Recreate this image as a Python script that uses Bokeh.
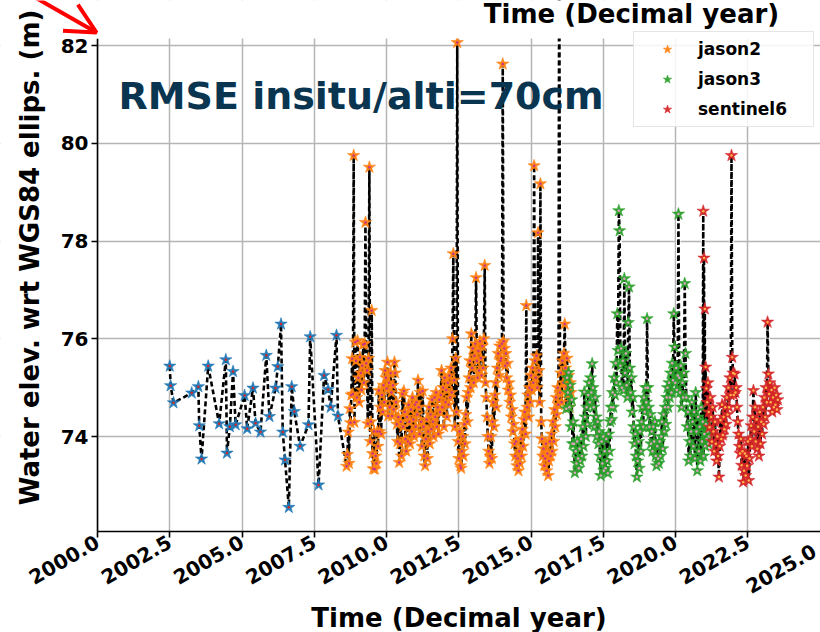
import numpy as np
from math import pi
from bokeh.plotting import figure
from bokeh.models import (Range1d, FixedTicker, PrintfTickFormatter, Label, Arrow, OpenHead,
                          Legend, LegendItem, LinearAxis, Grid, BoxAnnotation)
from bokeh.embed import file_html
from bokeh.resources import INLINE

# ---------------- data ----------------
x_ticks = [2000.0, 2002.5, 2005.0, 2007.5, 2010.0, 2012.5, 2015.0, 2017.5, 2020.0, 2022.5, 2025.0]
y_ticks = [74, 76, 78, 80, 82]

envisat_years = [2002.50, 2002.53, 2002.63, 2003.26, 2003.49, 2003.52, 2003.60, 2003.83, 2004.21, 2004.44,
                 2004.48, 2004.58, 2004.69, 2004.78, 2005.09, 2005.18, 2005.38, 2005.47, 2005.64, 2005.84,
                 2005.95, 2006.16, 2006.24, 2006.35, 2006.41, 2006.49, 2006.62, 2006.72, 2006.81, 2007.01,
                 2007.30, 2007.36, 2007.65, 2007.84, 2007.98, 2008.07, 2008.27, 2008.32]
envisat_height = [75.44, 75.04, 74.69, 74.89, 75.02, 74.22, 73.54, 75.44, 74.26, 75.57,
                  73.66, 74.20, 75.33, 74.24, 74.84, 74.16, 74.99, 74.27, 74.09, 75.66,
                  74.41, 74.99, 75.43, 76.30, 74.09, 73.52, 72.55, 75.02, 74.51, 73.80,
                  74.24, 76.04, 73.01, 75.25, 74.96, 74.60, 76.07, 74.42]

cycle_days = 9.9156
jason2_start = 2008.62
jason3_start = 2016.22
sentinel6_start = 2020.96

jason2_height = [
    73.39, 73.63, 74.09, 73.45, 74.57, 74.28, 74.85, 75.59, 74.87, 79.75,
    74.29, 75.93, 75.55, 74.80, 75.96, 75.20, 74.70, 75.62, 75.30, 74.95,
    75.45, 75.88, 75.10, 75.90, 78.38, 75.50, 75.35, 74.26, 75.60, 79.51,
    73.90, 74.30, 76.58, 73.65, 73.34, 74.10, 73.33, 73.60, 73.45, 74.10,
    73.80, 74.94, 74.10, 74.60, 74.05, 74.85, 74.50, 75.05, 74.70, 75.35,
    75.20, 74.98, 75.52, 74.42, 75.10, 74.60, 75.30, 74.90, 74.42, 75.05,
    74.55, 75.52, 75.30, 74.70, 74.25, 73.90, 74.40, 73.47, 73.85, 74.30,
    73.60, 74.87, 74.20, 74.93, 74.50, 73.95, 73.70, 74.40, 73.90, 74.65,
    74.30, 73.85, 74.55, 74.10, 74.80, 74.35, 74.00, 74.65, 74.20, 74.70,
    74.45, 75.15, 74.60, 74.05, 74.90, 74.30, 73.80, 74.93, 74.20, 73.60,
    73.40, 73.95, 74.35, 73.55, 74.10, 74.60, 73.85, 74.45, 74.15, 74.75,
    74.30, 74.00, 74.80, 74.40, 74.90, 74.20, 74.60, 74.05, 74.75, 74.50,
    74.85, 75.35, 74.60, 75.00, 74.20, 75.20, 74.70, 74.95, 74.40, 75.10,
    74.65, 75.25, 74.80, 75.40, 74.90, 76.00, 77.74, 75.15, 74.20, 75.60,
    74.50, 82.06, 73.90, 73.55, 74.10, 73.40, 73.35, 73.70, 74.00, 73.60,
    74.25, 73.85, 74.45, 74.80, 74.30, 74.90, 75.20, 75.55, 75.00, 76.10,
    75.40, 75.80, 75.10, 75.65, 75.90, 77.25, 75.55, 75.20, 75.75, 75.35,
    75.95, 75.60, 75.25, 75.85, 75.40, 76.00, 77.50, 75.10, 74.80, 74.40,
    74.00, 73.70, 73.45, 73.60, 74.00, 73.55, 74.30, 74.70, 74.20, 74.85,
    75.10, 74.60, 75.40, 75.70, 75.25, 75.85, 75.55, 75.60, 75.90, 81.62,
    75.95, 75.80, 75.45, 75.70, 75.20, 75.50, 74.95, 75.10, 74.70, 74.85,
    74.40, 74.55, 74.10, 74.25, 73.85, 73.60, 73.90, 73.40, 73.55, 73.30,
    73.70, 73.45, 73.95, 73.60, 74.15, 73.80, 74.35, 74.50, 74.05, 76.68,
    74.60, 74.85, 74.40, 75.00, 74.70, 75.25, 74.95, 75.40, 75.10, 79.54,
    75.55, 75.20, 75.65, 75.00, 78.17, 75.35, 74.70, 79.17, 74.30, 73.95,
    73.60, 73.75, 73.40, 73.55, 73.85, 73.30, 73.65, 73.20, 73.50, 73.90,
    73.60, 74.05, 73.70, 74.30, 73.90, 74.55, 74.20, 74.80, 74.45, 75.00,
    74.65, 85.00, 74.90, 75.30, 74.70, 75.55, 75.10, 75.70, 76.30, 75.40,
    75.00, 75.60, 74.85, 75.25, 74.60, 75.10, 74.90]

jason3_height = [
    74.57, 75.20, 74.90, 75.31, 74.60, 75.05, 74.20, 74.75, 73.85, 74.30,
    73.85, 73.26, 73.70, 73.45, 73.90, 73.55, 73.35, 73.75, 73.50, 73.95,
    73.60, 74.20, 73.80, 74.91, 74.40, 74.00, 74.60, 74.25, 74.85, 75.10,
    74.70, 75.20, 74.90, 75.49, 75.00, 74.60, 74.20, 74.80, 74.40, 74.00,
    74.30, 73.85, 74.10, 73.60, 73.20, 73.90, 73.45, 74.00, 73.30, 73.70,
    73.35, 73.95, 73.50, 73.25, 74.05, 73.70, 74.30, 74.60, 74.35, 74.90,
    74.60, 75.20, 74.85, 75.50, 75.10, 76.51, 75.76, 78.62, 78.21, 75.45,
    75.80, 75.00, 75.55, 74.94, 77.23, 75.30, 75.70, 75.05, 74.80, 76.33,
    77.06, 75.40, 74.90, 75.20, 74.50, 74.80, 74.20, 73.85, 74.05, 73.60,
    73.17, 73.50, 73.90, 73.35, 74.10, 73.70, 74.30, 74.60, 74.20, 74.80,
    74.50, 75.00, 74.70, 76.41, 75.00, 74.60, 74.20, 74.45, 73.85, 74.10,
    73.70, 74.20, 73.90, 74.30, 73.60, 73.40, 73.80, 73.55, 73.45, 73.90,
    73.60, 74.00, 74.30, 73.75, 74.45, 74.10, 74.60, 74.25, 74.80, 75.00,
    74.60, 75.10, 74.80, 75.30, 74.90, 75.50, 75.15, 76.51, 75.83, 75.10,
    75.40, 74.95, 75.25, 78.55, 75.20, 74.90, 75.45, 74.60, 75.10, 74.80,
    75.30, 77.13, 75.70, 74.80, 74.20, 74.50, 73.50, 73.90, 73.60, 74.10,
    74.70, 74.30, 73.80, 74.50, 73.55, 74.90, 74.10, 73.30, 74.40, 73.70,
    74.20, 73.50, 74.60, 73.90, 74.30, 73.60, 74.05, 73.80, 74.25, 73.95,
    74.10, 73.85, 74.00, 74.15]

sentinel6_height = [
    78.61, 77.65, 76.61, 75.42, 74.98, 74.70, 75.10, 74.50, 74.19, 74.80,
    74.40, 73.90, 74.60, 74.10, 73.70, 74.30, 73.85, 73.50, 74.00, 73.60,
    73.17, 73.80, 74.33, 73.95, 74.65, 74.03, 74.40, 74.15, 74.60, 74.25,
    74.80, 74.45, 75.00, 74.60, 75.20, 74.85, 79.75, 75.62, 75.30, 74.85,
    75.28, 74.90, 75.00, 74.60, 74.30, 74.05, 73.80, 73.65, 73.95, 73.41,
    73.70, 73.07, 73.30, 73.65, 73.20, 73.60, 73.40, 73.90, 73.10, 73.55,
    73.95, 74.22, 73.80, 74.40, 74.94, 74.10, 74.60, 73.90, 74.35, 73.75,
    74.20, 73.60, 74.50, 73.85, 74.30, 74.05, 74.60, 74.25, 74.80, 74.40,
    75.00, 74.70, 76.34, 75.28, 74.87, 75.10, 74.70, 74.95, 74.50, 74.80,
    74.60, 75.00, 74.65, 74.85, 74.55, 74.75]


def cycle_times(start, n):
    return start + np.arange(n) * cycle_days / 365.25


envisat_t = np.array(envisat_years)
jason2_t = cycle_times(jason2_start, len(jason2_height))
jason3_t = cycle_times(jason3_start, len(jason3_height))
sentinel6_t = cycle_times(sentinel6_start, len(sentinel6_height))

all_t = np.concatenate([envisat_t, jason2_t, jason3_t, sentinel6_t])
all_h = np.concatenate([envisat_height, jason2_height, jason3_height, sentinel6_height])
order = np.argsort(all_t, kind="stable")
all_t = all_t[order]
all_h = all_h[order]

# ---------------- geometry (canvas = plot frame) ----------------
W, H = 820, 632
PX_PER_YEAR = 28.9          # 2000.0 sits 97 px from the left edge
PX_PER_M = 48.875           # 74 m sits 436 px from the top edge
X0 = 2000.0 - 97 / PX_PER_YEAR
X1 = X0 + W / PX_PER_YEAR
YTOP = 74.0 + 436 / PX_PER_M
YBOT = YTOP - H / PX_PER_M
AX_BOTTOM = 74.0 - (531 - 436) / PX_PER_M   # lower spine
AX_TOP = 82.0 + (45 - 38) / PX_PER_M        # upper edge of the axes area


def xpx(px):
    return X0 + px / PX_PER_YEAR


def ypx(py):
    return YTOP - py / PX_PER_M


FONT = "DejaVu Sans"
p = figure(width=W, height=H, x_range=Range1d(X0, X1), y_range=Range1d(YBOT, YTOP),
           output_backend="svg", toolbar_location=None, title=None,
           x_axis_location=None, y_axis_location=None, min_border=0)
p.outline_line_color = None
p.background_fill_color = "white"
p.border_fill_color = "white"

# the last tick (at the right canvas edge) gets its label drawn separately so it stays inside
xaxis = LinearAxis(fixed_location=AX_BOTTOM, bounds=(2000.0, 2025.0),
                   ticker=FixedTicker(ticks=x_ticks[:-1]), formatter=PrintfTickFormatter(format="%.1f"))
yaxis = LinearAxis(fixed_location=2000.0, bounds=(AX_BOTTOM, AX_TOP),
                   ticker=FixedTicker(ticks=y_ticks), formatter=PrintfTickFormatter(format="%d"))
for ax in (xaxis, yaxis):
    ax.axis_line_color = "black"
    ax.axis_line_width = 1.6
    ax.major_tick_line_color = "black"
    ax.major_tick_line_width = 1.6
    ax.major_tick_out = 6
    ax.major_tick_in = 0
    ax.minor_tick_out = 0
    ax.minor_tick_in = 0
    ax.major_label_text_font = FONT
    ax.major_label_text_font_style = "bold"
    ax.major_label_text_font_size = "20px"
    ax.major_label_text_color = "black"
    ax.major_label_standoff = 3
xaxis.major_label_orientation = pi / 6
xaxis.axis_label = "Time (Decimal year)"
xaxis.axis_label_text_font = FONT
xaxis.axis_label_text_font_style = "bold"
xaxis.axis_label_text_font_size = "26px"
xaxis.axis_label_text_color = "black"
xaxis.axis_label_standoff = 9
p.add_layout(xaxis, "below")
p.add_layout(yaxis, "left")

grid_style = dict(grid_line_color="#b5b5b5", grid_line_width=1.5)
p.add_layout(Grid(dimension=0, ticker=xaxis.ticker, **grid_style))
p.add_layout(Grid(dimension=1, ticker=yaxis.ticker, **grid_style))
# keep grid lines inside the axes area
p.add_layout(BoxAnnotation(top=AX_BOTTOM, fill_color="white", fill_alpha=1.0, line_alpha=0,
                           level="underlay"))
p.add_layout(BoxAnnotation(right=2000.0, fill_color="white", fill_alpha=1.0, line_alpha=0,
                           level="underlay"))

# connecting dashed line
p.line(all_t, all_h, line_color="white", line_width=4)
p.line(all_t, all_h, line_color="black", line_width=2.6, line_dash="5 3")

series = [
    (envisat_t, envisat_height, "#1f77b4", "#d62728", None),
    (jason2_t, jason2_height, "#ff7f0e", "#c8338a", "jason2"),
    (jason3_t, jason3_height, "#2ca02c", "#e0a0c0", "jason3"),
    (sentinel6_t, sentinel6_height, "#d62728", "#ffb347", "sentinel6"),
]
items = []
for t, h, c, dc, name in series:
    r1 = p.scatter(t, h, marker="star", size=13, fill_color=c, line_color=c,
                   line_alpha=0.55, fill_alpha=0.95)
    p.scatter(t, h, marker="circle", size=2.5, fill_color=dc, line_color=None)
    if name:
        items.append(LegendItem(label=name, renderers=[r1]))

legend = Legend(items=items, location=(633, H - 127), orientation="vertical",
                label_text_font=FONT, label_text_font_style="bold", label_text_font_size="17px",
                label_text_color="black",
                border_line_color="#cccccc", border_line_width=1.5, background_fill_alpha=0.85,
                glyph_width=54, glyph_height=22, label_standoff=4, label_width=109,
                label_height=22, padding=6, spacing=8, margin=0)
p.add_layout(legend)

# white band above the axes area (covers the legend top and the clipped spike)
p.add_layout(BoxAnnotation(bottom=AX_TOP, fill_color="white", fill_alpha=1.0, line_alpha=0))

# texts
p.add_layout(Label(x=xpx(118), y=ypx(95), text="RMSE insitu/alti=70cm", text_font=FONT,
                   text_font_style="bold", text_font_size="38px", text_color="#0a3550",
                   text_baseline="alphabetic"))
p.add_layout(Label(x=xpx(631), y=ypx(13), text="Time (Decimal year)", text_font=FONT,
                   text_font_style="bold", text_font_size="26px", text_color="black",
                   text_align="center", text_baseline="alphabetic"))
p.add_layout(Label(x=xpx(29), y=ypx(257), text="Water elev. wrt WGS84 ellips. (m)", text_font=FONT,
                   text_font_style="bold", text_font_size="26px", text_color="black",
                   text_align="center", text_baseline="alphabetic", angle=pi / 2))
# label of the last x tick, nudged left so it is not cut by the window edge
p.add_layout(Label(x=xpx(814), y=ypx(549), text="%.1f" % x_ticks[-1], text_font=FONT,
                   text_font_style="bold", text_font_size="20px", text_color="black",
                   text_align="right", text_baseline="middle", angle=pi / 6))
p.add_layout(Arrow(end=OpenHead(size=30, line_color="red", line_width=4),
                   x_start=xpx(33), y_start=ypx(-4), x_end=xpx(96), y_end=ypx(32),
                   line_color="red", line_width=4))

open("out.html", "w").write(file_html(p, INLINE))
